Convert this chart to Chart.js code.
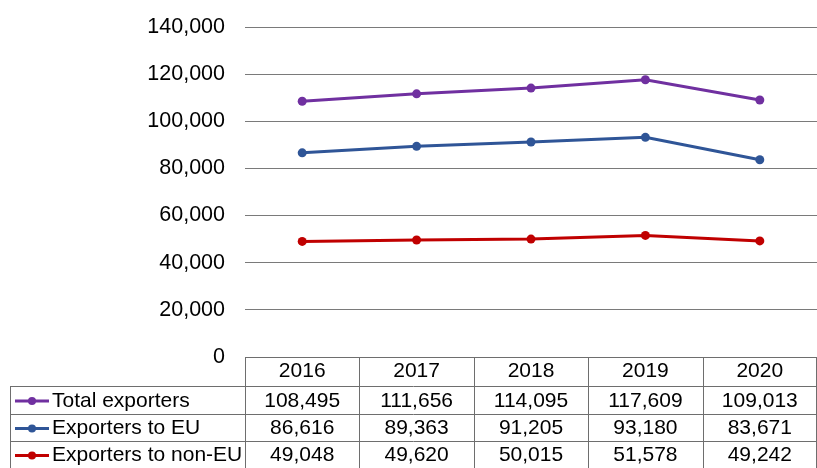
<!DOCTYPE html>
<html>
<head>
<meta charset="utf-8">
<script src="https://cdn.jsdelivr.net/npm/chart.js@4"></script>
<style>
  body { margin: 0; background: #fff; overflow: hidden; }
</style>
</head>
<body>
<canvas id="grafica" width="817" height="468"></canvas>
<script>
// datos de la grafica
let years = ["2016", "2017", "2018", "2019", "2020"]
let totalExporters = [108495, 111656, 114095, 117609, 109013]
let exportersEU = [86616, 89363, 91205, 93180, 83671]
let exportersNonEU = [49048, 49620, 50015, 51578, 49242]
let seriesNames = ["Total exporters", "Exporters to EU", "Exporters to non-EU"]
let seriesColors = ["#7030A0", "#2F5597", "#C00000"]

let fuente = "'Liberation Sans', Arial, sans-serif"
let lineaTabla = "#6e6e6e"

function fmt(v) {
    return v.toLocaleString("en-US")
}

// tabla de datos debajo del eje x
let tablaPlugin = {
    id: "tabla",
    afterDraw(chart) {
        let ctx = chart.ctx
        let x = chart.scales.x
        let area = chart.chartArea
        let w = (area.right - area.left) / years.length
        let top = area.bottom
        let rows = [top, 386, 414, 441, 468]
        let leftEdge = 10.5
        let right = area.right - 0.5

        ctx.save()
        ctx.strokeStyle = lineaTabla
        ctx.lineWidth = 1

        // lineas horizontales
        ctx.beginPath()
        ctx.moveTo(area.left, Math.round(top) + 0.5)
        ctx.lineTo(right, Math.round(top) + 0.5)
        for (let i = 1; i < rows.length - 1; i++) {
            ctx.moveTo(leftEdge, rows[i] + 0.5)
            ctx.lineTo(right, rows[i] + 0.5)
        }
        // lineas verticales
        ctx.moveTo(leftEdge, rows[1])
        ctx.lineTo(leftEdge, 468)
        for (let i = 0; i <= years.length; i++) {
            let px = Math.round(area.left + i * w) + 0.5
            if (i == years.length) px = right
            ctx.moveTo(px, top)
            ctx.lineTo(px, 468)
        }
        ctx.stroke()

        // filas
        let datos = chart.data.datasets
        ctx.font = "21px " + fuente
        ctx.textBaseline = "middle"
        for (let r = 0; r < datos.length; r++) {
            let cy = (rows[r + 1] + rows[r + 2]) / 2 + 1
            // marcador de leyenda
            ctx.strokeStyle = seriesColors[r]
            ctx.lineWidth = 3
            ctx.beginPath()
            ctx.moveTo(15, cy)
            ctx.lineTo(49, cy)
            ctx.stroke()
            ctx.fillStyle = seriesColors[r]
            ctx.beginPath()
            ctx.arc(32, cy, 4, 0, Math.PI * 2)
            ctx.fill()

            ctx.fillStyle = "#000"
            ctx.textAlign = "left"
            ctx.fillText(seriesNames[r], 52, cy)

            ctx.textAlign = "center"
            for (let c = 0; c < years.length; c++) {
                ctx.fillText(fmt(datos[r].data[c]), x.getPixelForValue(c), cy)
            }
        }
        ctx.restore()
    }
}

let miCanvas = document.getElementById("grafica").getContext("2d")

let chart = new Chart(miCanvas, {
    type: "line",
    data: {
        labels: years,
        datasets: [
            {
                label: seriesNames[0],
                data: totalExporters,
                borderColor: seriesColors[0],
                backgroundColor: seriesColors[0]
            },
            {
                label: seriesNames[1],
                data: exportersEU,
                borderColor: seriesColors[1],
                backgroundColor: seriesColors[1]
            },
            {
                label: seriesNames[2],
                data: exportersNonEU,
                borderColor: seriesColors[2],
                backgroundColor: seriesColors[2]
            }
        ]
    },
    options: {
        responsive: false,
        animation: false,
        layout: { autoPadding: false, padding: { top: 27, right: 0, bottom: 0, left: 0 } },
        elements: {
            line: { borderWidth: 3, tension: 0 },
            point: { radius: 4.5, borderWidth: 0, hoverRadius: 4.5 }
        },
        plugins: {
            legend: { display: false },
            tooltip: { enabled: false }
        },
        scales: {
            x: {
                offset: true,
                grid: { display: false, drawTicks: false },
                border: { display: false },
                ticks: {
                    color: "#000",
                    font: { family: fuente, size: 21 },
                    padding: 2,
                    maxRotation: 0
                },
                afterFit(scale) { scale.height = 111 }
            },
            y: {
                min: 0,
                max: 140000,
                grid: { color: "#7a7a7a", lineWidth: 1, drawTicks: false },
                border: { display: false },
                ticks: {
                    stepSize: 20000,
                    color: "#000",
                    font: { family: fuente, size: 21.5 },
                    padding: 20,
                    callback: (v) => fmt(v)
                },
                afterFit(scale) {
                    scale.width = 245
                    scale.paddingTop = 0
                    scale.paddingBottom = 0
                }
            }
        }
    },
    plugins: [tablaPlugin]
})
</script>
</body>
</html>
